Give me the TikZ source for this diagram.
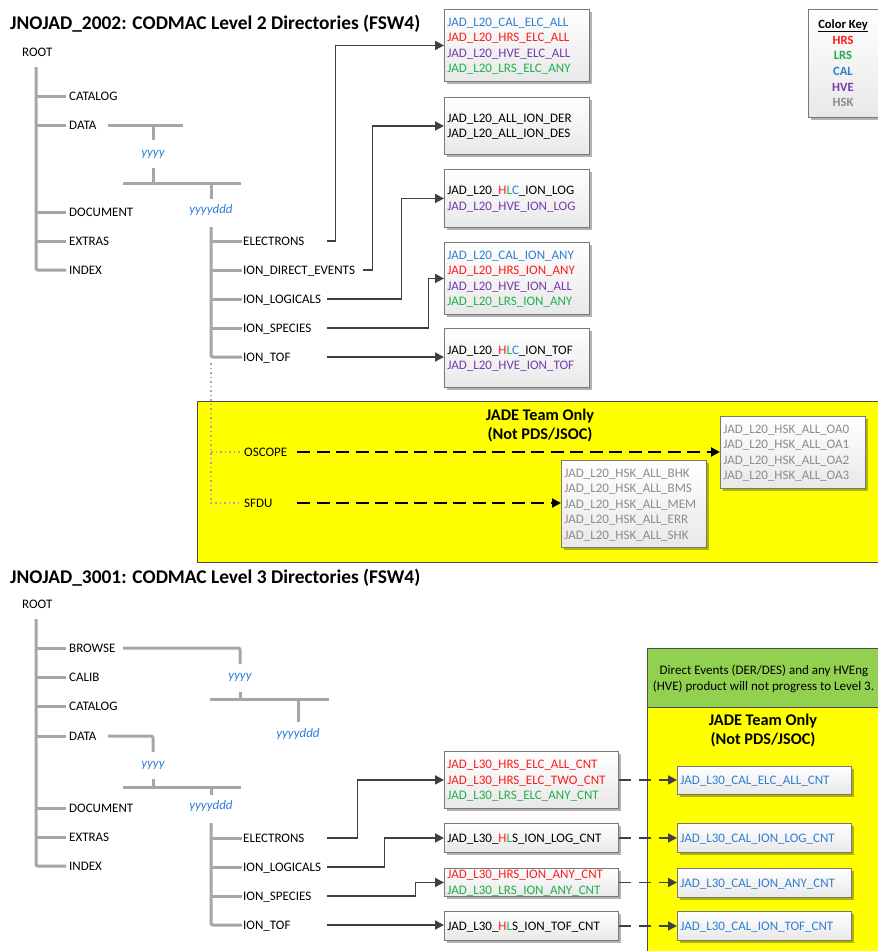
\documentclass[tikz,border=0pt]{standalone}
\usepackage{fontspec}
\setmainfont{Carlito}
\usetikzlibrary{arrows.meta,shadows}
\definecolor{cblue}{RGB}{47,125,214}
\definecolor{cred}{RGB}{255,26,26}
\definecolor{cpurp}{RGB}{118,58,172}
\definecolor{cgreen}{RGB}{30,176,76}
\definecolor{cgray}{RGB}{140,140,140}
\definecolor{treeg}{RGB}{166,166,166}
\definecolor{connc}{RGB}{64,64,64}
\definecolor{boxb}{RGB}{120,120,120}
\definecolor{ylw}{RGB}{255,255,0}
\definecolor{grn}{RGB}{146,208,80}
\newcommand\lblfont{\fontsize{13}{15.5}\selectfont}
\newcommand\ttlfont{\fontsize{19.4}{23}\selectfont\bfseries}
\newcommand\jadefont{\fontsize{16.3}{19}\selectfont\bfseries}
\newcommand\ckfont{\fontsize{12.6}{15}\selectfont\bfseries}
\newcommand\colR[1]{\textcolor{cred}{#1}}
\newcommand\colG[1]{\textcolor{cgreen}{#1}}
\newcommand\colB[1]{\textcolor{cblue}{#1}}
\newcommand\colP[1]{\textcolor{cpurp}{#1}}
\newcommand\colK[1]{\textcolor{cgray}{#1}}
\tikzset{
  lbl/.style={anchor=west, inner sep=0pt, font=\lblfont, text height=8.3pt, text depth=0pt},
  lblw/.style={lbl, text width=#1, align=left},
  lblc/.style={inner sep=0pt, font=\lblfont, text height=8.3pt, text depth=0pt},
  yy/.style={inner sep=0pt, font=\lblfont\itshape, text=cblue, text height=6pt, text depth=3pt},
  ttl/.style={anchor=west, inner sep=0pt, font=\ttlfont, text height=12.4pt, text depth=0pt},
  jade/.style={inner sep=0pt, font=\jadefont, text height=10.5pt, text depth=0pt},
  ckt/.style={inner sep=0pt, font=\ckfont, text height=8.1pt, text depth=0pt},
  treeln/.style={draw=treeg, line width=3pt, rounded corners=2pt},
  conn/.style={draw=connc, line width=1.8pt, -{Triangle[length=9pt,width=9pt]}},
  dsh/.style={draw=black, line width=2pt, dash pattern=on 13pt off 6.5pt, -{Triangle[length=9pt,width=9pt]}},
  dshb/.style={draw=connc, line width=1.8pt, dash pattern=on 12pt off 8pt, -{Triangle[length=9pt,width=9pt]}},
  dotln/.style={draw=treeg, line width=1.5pt, dash pattern=on 1.5pt off 3pt},
  bx/.style={draw=boxb, line width=0.9pt, top color=white, bottom color=black!9,
    drop shadow={shadow xshift=2.5pt, shadow yshift=-2.5pt, opacity=0.3, fill=black},
    anchor=north west, inner xsep=3pt, inner ysep=0pt, align=left, font=\lblfont,
    text height=8.3pt, text depth=0pt},
  nl/.style={text depth=#1*15.5pt},
  area/.style={draw=black!70, line width=0.8pt},
}
\begin{document}
\begin{tikzpicture}[x=1pt,y=-1pt]
\useasboundingbox (0,0) rectangle (878,951);

% ---------- coloured areas ----------
\path[area, fill=ylw] (197,401) rectangle (884,562);
\path[area, fill=grn] (647,648) rectangle (884,707);
\path[area, fill=ylw] (647,707) rectangle (884,956);

% ================= LEVEL 2 =================
\node[ttl] (t1) at (10,23) {JNOJAD\_2002: CODMAC Level 2 Directories (FSW4)};
\node[lbl] (root1) at (22,52) {ROOT};
\node[lbl] (cat1) at (69,96) {CATALOG};
\node[lbl] (data1) at (69,125) {DATA};
\node[lbl] (doc1) at (69,212) {DOCUMENT};
\node[lbl] (ext1) at (69,241) {EXTRAS};
\node[lbl] (idx1) at (69,270) {INDEX};
\node[yy] (y1) at (153,155) {yyyy};
\node[yy] (yd1) at (211,212) {yyyyddd};

\draw[treeln] (36,67) -- (36,270) -- (66,270);
\foreach \yy in {96,125,212,241} \draw[treeln] (36,\yy) -- (66,\yy);
\draw[treeln] (108,125) -- (183,125);
\draw[treeln] (153,125) -- (153,140);
\draw[treeln] (153,168) -- (153,183);
\draw[treeln] (123,183) -- (241,183);
\draw[treeln] (211,183) -- (211,199);
\draw[treeln] (211,227) -- (211,357) -- (242,357);
\foreach \yy in {241,270,299,328} \draw[treeln] (211,\yy) -- (242,\yy);

\node[lblw=84pt] (el1) at (243,241) {ELECTRONS};
\node[lblw=120pt] (ide1) at (243,270) {ION\_DIRECT\_EVENTS};
\node[lblw=84pt] (il1) at (243,299) {ION\_LOGICALS};
\node[lblw=84pt] (is1) at (243,328) {ION\_SPECIES};
\node[lblw=84pt] (it1) at (243,357) {ION\_TOF};

\node[bx, nl=3, text width=139pt, minimum height=72pt] (b1) at (444,9)
  {\colB{JAD\_L20\_CAL\_ELC\_ALL}\\\colR{JAD\_L20\_HRS\_ELC\_ALL}\\\colP{JAD\_L20\_HVE\_ELC\_ALL}\\\colG{JAD\_L20\_LRS\_ELC\_ANY}};
\node[bx, nl=1, text width=139pt, minimum height=57pt] (b2) at (444,97)
  {JAD\_L20\_ALL\_ION\_DER\\JAD\_L20\_ALL\_ION\_DES};
\node[bx, nl=1, text width=139pt, minimum height=58pt] (b3) at (444,169)
  {JAD\_L20\_\colR{H}\colG{L}\colB{C}\_ION\_LOG\\\colP{JAD\_L20\_HVE\_ION\_LOG}};
\node[bx, nl=3, text width=139pt, minimum height=72pt] (b4) at (444,242)
  {\colB{JAD\_L20\_CAL\_ION\_ANY}\\\colR{JAD\_L20\_HRS\_ION\_ANY}\\\colP{JAD\_L20\_HVE\_ION\_ALL}\\\colG{JAD\_L20\_LRS\_ION\_ANY}};
\node[bx, nl=1, text width=139pt, minimum height=59pt] (b5) at (444,328)
  {JAD\_L20\_\colR{H}\colG{L}\colB{C}\_ION\_TOF\\\colP{JAD\_L20\_HVE\_ION\_TOF}};

\draw[conn] (el1.east) -- ++(8,0) |- (b1.west);
\draw[conn] (ide1.east) -- ++(9,0) |- (b2.west);
\draw[conn] (il1.east) -- ++(74,0) |- (b3.west);
\draw[conn] (is1.east) -- ++(101,0) |- (b4.west);
\draw[conn] (it1.east) -- (it1.east -| b5.west);

% colour key
\node[bx, minimum width=78pt, minimum height=108pt] (ck) at (808,9) {};
\node[ckt] (ckh) at (843,24) {\underline{Color Key}};
\node[ckt, text=cred] (ck1) at (843,40) {HRS};
\node[ckt, text=cgreen] (ck2) at (843,55) {LRS};
\node[ckt, text=cblue] (ck3) at (843,71) {CAL};
\node[ckt, text=cpurp] (ck4) at (843,87) {HVE};
\node[ckt, text=cgray] (ck5) at (843,102) {HSK};

% JADE-only housekeeping
\node[jade] (j1a) at (540,415) {JADE Team Only};
\node[jade] (j1b) at (540,434) {(Not PDS/JSOC)};
\node[lblw=53pt] (osc) at (244,452) {OSCOPE};
\node[lblw=53pt] (sfdu) at (244,503) {SFDU};
\draw[dotln] (211,363) -- (211,503) -- ([xshift=-3pt]sfdu.west);
\draw[dotln] (211,452) -- ([xshift=-3pt]osc.west);

\node[bx, nl=3, text width=139pt, minimum height=72pt] (oa) at (720,416)
  {\colK{JAD\_L20\_HSK\_ALL\_OA0}\\\colK{JAD\_L20\_HSK\_ALL\_OA1}\\\colK{JAD\_L20\_HSK\_ALL\_OA2}\\\colK{JAD\_L20\_HSK\_ALL\_OA3}};
\node[bx, nl=4, text width=139pt, minimum height=87pt] (bhk) at (561,460)
  {\colK{JAD\_L20\_HSK\_ALL\_BHK}\\\colK{JAD\_L20\_HSK\_ALL\_BMS}\\\colK{JAD\_L20\_HSK\_ALL\_MEM}\\\colK{JAD\_L20\_HSK\_ALL\_ERR}\\\colK{JAD\_L20\_HSK\_ALL\_SHK}};
\draw[dsh] (osc.east) -- (osc.east -| oa.west);
\draw[dsh] (sfdu.east) -- (sfdu.east -| bhk.west);

% ================= LEVEL 3 =================
\node[ttl] (t2) at (10,577) {JNOJAD\_3001: CODMAC Level 3 Directories (FSW4)};
\node[lbl] (root2) at (22,604) {ROOT};
\node[lbl] (brw2) at (69,648) {BROWSE};
\node[lbl] (cal2) at (69,677) {CALIB};
\node[lbl] (cat2) at (69,706) {CATALOG};
\node[lbl] (data2) at (69,736) {DATA};
\node[lbl] (doc2) at (69,808) {DOCUMENT};
\node[lbl] (ext2) at (69,837) {EXTRAS};
\node[lbl] (idx2) at (69,866) {INDEX};
\node[yy] (y2a) at (240,678) {yyyy};
\node[yy] (yd2a) at (298,736) {yyyyddd};
\node[yy] (y2b) at (153,766) {yyyy};
\node[yy] (yd2b) at (211,808) {yyyyddd};

\draw[treeln] (36,619) -- (36,866) -- (66,866);
\foreach \yy in {648,677,706,736,808,837} \draw[treeln] (36,\yy) -- (66,\yy);
\draw[treeln] (123,648) -- (240,648) -- (240,664);
\draw[treeln] (240,692) -- (240,699);
\draw[treeln] (210,699) -- (329,699);
\draw[treeln] (298,699) -- (298,722);
\draw[treeln] (108,736) -- (153,736) -- (153,752);
\draw[treeln] (153,779) -- (153,787);
\draw[treeln] (123,787) -- (241,787);
\draw[treeln] (211,787) -- (211,795);
\draw[treeln] (211,823) -- (211,925) -- (242,925);
\foreach \yy in {838,867,896} \draw[treeln] (211,\yy) -- (242,\yy);

\node[lblw=84pt] (el2) at (243,838) {ELECTRONS};
\node[lblw=84pt] (il2) at (243,867) {ION\_LOGICALS};
\node[lblw=84pt] (is2) at (243,896) {ION\_SPECIES};
\node[lblw=84pt] (it2) at (243,925) {ION\_TOF};

\node[bx, nl=2, text width=168pt, minimum height=57pt] (c1) at (444,751)
  {\colR{JAD\_L30\_HRS\_ELC\_ALL\_CNT}\\\colR{JAD\_L30\_HRS\_ELC\_TWO\_CNT}\\\colG{JAD\_L30\_LRS\_ELC\_ANY\_CNT}};
\node[bx, text width=168pt, minimum height=29pt] (c2) at (444,823)
  {JAD\_L30\_\colR{H}\colG{L}S\_ION\_LOG\_CNT};
\node[bx, nl=1, text width=168pt, minimum height=28pt] (c3) at (444,868)
  {\colR{JAD\_L30\_HRS\_ION\_ANY\_CNT}\\\colG{JAD\_L30\_LRS\_ION\_ANY\_CNT}};
\node[bx, text width=168pt, minimum height=29pt] (c4) at (444,911)
  {JAD\_L30\_\colR{H}\colG{L}S\_ION\_TOF\_CNT};

\draw[conn] (el2.east) -- ++(30,0) |- (c1.west);
\draw[conn] (il2.east) -- ++(57,0) |- (c2.west);
\draw[conn] (is2.east) -- ++(88,0) |- (c3.west);
\draw[conn] (it2.east) -- (it2.east -| c4.west);

\node[lblc] (g1) at (764,670) {Direct Events (DER/DES) and any HVEng};
\node[lblc] (g2) at (763.5,686) {(HVE) product will not progress to Level 3.};
\node[jade] (j2a) at (763,720) {JADE Team Only};
\node[jade] (j2b) at (763,739) {(Not PDS/JSOC)};

\node[bx, text width=168pt, minimum height=28pt] (d1) at (677,766) {\colB{JAD\_L30\_CAL\_ELC\_ALL\_CNT}};
\node[bx, text width=168pt, minimum height=29pt] (d2) at (677,823) {\colB{JAD\_L30\_CAL\_ION\_LOG\_CNT}};
\node[bx, text width=168pt, minimum height=29pt] (d3) at (677,868) {\colB{JAD\_L30\_CAL\_ION\_ANY\_CNT}};
\node[bx, text width=168pt, minimum height=29pt] (d4) at (677,911) {\colB{JAD\_L30\_CAL\_ION\_TOF\_CNT}};

\draw[dshb] (c1.east) -- (c1.east -| d1.west);
\draw[dshb] (c2.east) -- (c2.east -| d2.west);
\draw[dshb] (c3.east) -- (c3.east -| d3.west);
\draw[dshb] (c4.east) -- (c4.east -| d4.west);
\end{tikzpicture}
\end{document}
